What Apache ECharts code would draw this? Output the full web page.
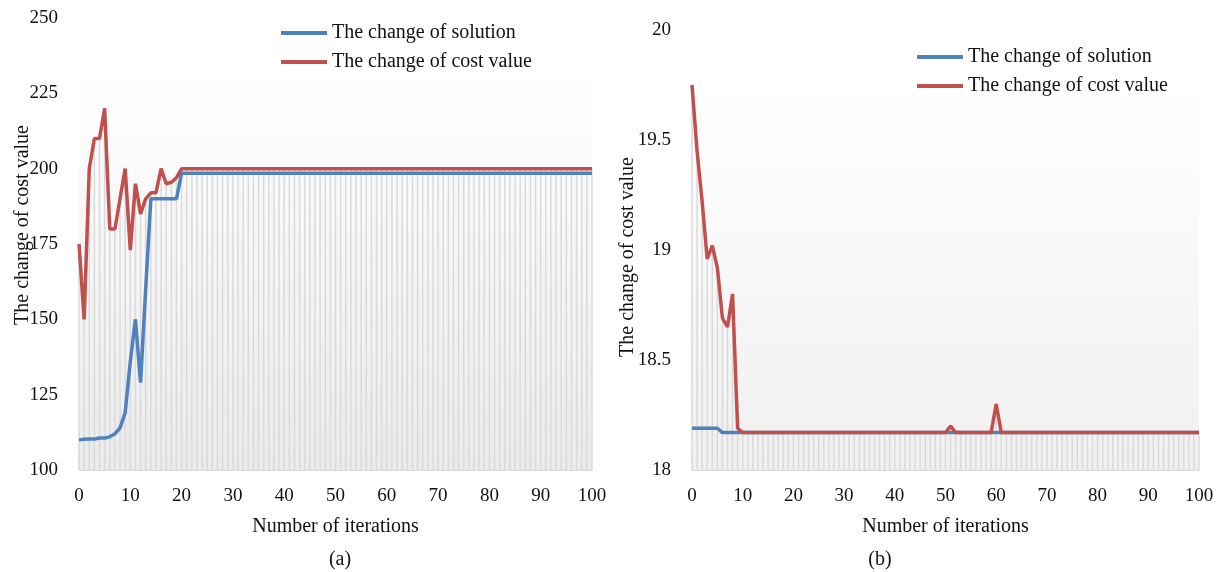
<!DOCTYPE html>
<html>
<head>
<meta charset="utf-8">
<script src="https://cdn.jsdelivr.net/npm/echarts@6/dist/echarts.min.js"></script>
<style>
html,body{margin:0;padding:0;background:#fff;}
#c{width:1220px;height:572px;}
</style>
</head>
<body>
<div id="c"></div>
<script>
// ---- Data (a) ----
const solutionA = [
  110, 110.2, 110.3, 110.3, 110.6, 110.6, 111, 112, 114, 119,
  136, 150, 129, 160, 190, 190, 190, 190, 190, 190,
  198.5, 198.5, 198.5, 198.5, 198.5, 198.5, 198.5, 198.5, 198.5, 198.5,
  198.5, 198.5, 198.5, 198.5, 198.5, 198.5, 198.5, 198.5, 198.5, 198.5,
  198.5, 198.5, 198.5, 198.5, 198.5, 198.5, 198.5, 198.5, 198.5, 198.5,
  198.5, 198.5, 198.5, 198.5, 198.5, 198.5, 198.5, 198.5, 198.5, 198.5,
  198.5, 198.5, 198.5, 198.5, 198.5, 198.5, 198.5, 198.5, 198.5, 198.5,
  198.5, 198.5, 198.5, 198.5, 198.5, 198.5, 198.5, 198.5, 198.5, 198.5,
  198.5, 198.5, 198.5, 198.5, 198.5, 198.5, 198.5, 198.5, 198.5, 198.5,
  198.5, 198.5, 198.5, 198.5, 198.5, 198.5, 198.5, 198.5, 198.5, 198.5,
  198.5
];
const costA = [
  175, 150, 200, 210, 210, 220, 180, 180, 190, 200,
  173, 195, 185, 190, 192, 192, 200, 195, 195.5, 197,
  200, 200, 200, 200, 200, 200, 200, 200, 200, 200,
  200, 200, 200, 200, 200, 200, 200, 200, 200, 200,
  200, 200, 200, 200, 200, 200, 200, 200, 200, 200,
  200, 200, 200, 200, 200, 200, 200, 200, 200, 200,
  200, 200, 200, 200, 200, 200, 200, 200, 200, 200,
  200, 200, 200, 200, 200, 200, 200, 200, 200, 200,
  200, 200, 200, 200, 200, 200, 200, 200, 200, 200,
  200, 200, 200, 200, 200, 200, 200, 200, 200, 200,
  200
];
// ---- Data (b) ----
const solutionB = [
  18.19, 18.19, 18.19, 18.19, 18.19, 18.19, 18.17, 18.17, 18.17, 18.17,
  18.17, 18.17, 18.17, 18.17, 18.17, 18.17, 18.17, 18.17, 18.17, 18.17,
  18.17, 18.17, 18.17, 18.17, 18.17, 18.17, 18.17, 18.17, 18.17, 18.17,
  18.17, 18.17, 18.17, 18.17, 18.17, 18.17, 18.17, 18.17, 18.17, 18.17,
  18.17, 18.17, 18.17, 18.17, 18.17, 18.17, 18.17, 18.17, 18.17, 18.17,
  18.17, 18.17, 18.17, 18.17, 18.17, 18.17, 18.17, 18.17, 18.17, 18.17,
  18.17, 18.17, 18.17, 18.17, 18.17, 18.17, 18.17, 18.17, 18.17, 18.17,
  18.17, 18.17, 18.17, 18.17, 18.17, 18.17, 18.17, 18.17, 18.17, 18.17,
  18.17, 18.17, 18.17, 18.17, 18.17, 18.17, 18.17, 18.17, 18.17, 18.17,
  18.17, 18.17, 18.17, 18.17, 18.17, 18.17, 18.17, 18.17, 18.17, 18.17,
  18.17
];
const costB = [
  19.75, 19.45, 19.22, 18.96, 19.02, 18.92, 18.69, 18.65, 18.80, 18.19,
  18.17, 18.17, 18.17, 18.17, 18.17, 18.17, 18.17, 18.17, 18.17, 18.17,
  18.17, 18.17, 18.17, 18.17, 18.17, 18.17, 18.17, 18.17, 18.17, 18.17,
  18.17, 18.17, 18.17, 18.17, 18.17, 18.17, 18.17, 18.17, 18.17, 18.17,
  18.17, 18.17, 18.17, 18.17, 18.17, 18.17, 18.17, 18.17, 18.17, 18.17,
  18.17, 18.20, 18.17, 18.17, 18.17, 18.17, 18.17, 18.17, 18.17, 18.17,
  18.30, 18.17, 18.17, 18.17, 18.17, 18.17, 18.17, 18.17, 18.17, 18.17,
  18.17, 18.17, 18.17, 18.17, 18.17, 18.17, 18.17, 18.17, 18.17, 18.17,
  18.17, 18.17, 18.17, 18.17, 18.17, 18.17, 18.17, 18.17, 18.17, 18.17,
  18.17, 18.17, 18.17, 18.17, 18.17, 18.17, 18.17, 18.17, 18.17, 18.17,
  18.17
];
const seriesNames = ['The change of solution', 'The change of cost value'];
const xTitle = 'Number of iterations';
const yTitle = 'The change of cost value';

// ---- Chart ----
const FONT = '"Liberation Serif", "Times New Roman", serif';
const BLUE = '#4f81bd', RED = '#c0504d';
const chart = echarts.init(document.getElementById('c'), null, {renderer: 'canvas'});
const pairs = arr => arr.map((v, i) => [i, v]);

function dropLines(gridIdx, data, yMin) {
  return {
    type: 'custom', xAxisIndex: gridIdx, yAxisIndex: gridIdx, silent: true, z: 1,
    data: pairs(data),
    renderItem: function (params, api) {
      const top = api.coord([api.value(0), api.value(1)]);
      const bot = api.coord([api.value(0), yMin]);
      return {type: 'line', shape: {x1: top[0], y1: top[1], x2: bot[0], y2: bot[1]},
              style: {stroke: '#dadada', lineWidth: 1.5}};
    }
  };
}
function lineSeries(name, gridIdx, data, color, z) {
  return {name: name, type: 'line', xAxisIndex: gridIdx, yAxisIndex: gridIdx,
          data: pairs(data), symbol: 'none', z: z,
          lineStyle: {color: color, width: 3.5}, itemStyle: {color: color}};
}
function xAx(gridIdx) {
  return {type: 'value', gridIndex: gridIdx, min: 0, max: 100, interval: 10,
          axisLine: {lineStyle: {color: '#d9d9d9', width: 1}}, axisTick: {show: false},
          splitLine: {show: false},
          axisLabel: {color: '#111', fontFamily: FONT, fontSize: 19, margin: 17},
          name: xTitle, nameLocation: 'middle', nameGap: 47,
          nameTextStyle: {color: '#111', fontFamily: FONT, fontSize: 20}};
}
function yAx(gridIdx, min, max, interval) {
  return {type: 'value', gridIndex: gridIdx, min: min, max: max, interval: interval,
          axisLine: {show: false}, axisTick: {show: false}, splitLine: {show: false},
          axisLabel: {color: '#111', fontFamily: FONT, fontSize: 19, margin: 21}};
}
function legendAt(left, top) {
  return {orient: 'vertical', left: left, top: top, data: seriesNames,
          icon: 'rect', itemWidth: 46, itemHeight: 4, itemGap: 9, selectedMode: false,
          textStyle: {color: '#111', fontFamily: FONT, fontSize: 20, lineHeight: 20}};
}
function grad(bottom) {
  return new echarts.graphic.LinearGradient(0, 0, 0, 1, [
    {offset: 0, color: '#ffffff'}, {offset: 0.12, color: '#ffffff'}, {offset: 1, color: bottom}]);
}

chart.setOption({
  animation: false,
  backgroundColor: '#fff',
  grid: [
    {left: 79, top: 18, width: 513, height: 452, show: true, borderWidth: 0, backgroundColor: grad('#ebebeb')},
    {left: 692, top: 30, width: 507, height: 440, show: true, borderWidth: 0, backgroundColor: grad('#f0f0f0')}
  ],
  xAxis: [xAx(0), xAx(1)],
  yAxis: [yAx(0, 100, 250, 25), yAx(1, 18, 20, 0.5)],
  legend: [legendAt(276, 18), legendAt(912, 42)],
  series: [
    dropLines(0, costA, 100),
    lineSeries(seriesNames[0], 0, solutionA, BLUE, 3),
    lineSeries(seriesNames[1], 0, costA, RED, 4),
    dropLines(1, costB, 18),
    lineSeries(seriesNames[0], 1, solutionB, BLUE, 3),
    lineSeries(seriesNames[1], 1, costB, RED, 4)
  ],
  graphic: [
    {type: 'text', x: 23, y: 225, rotation: Math.PI / 2,
     style: {text: yTitle, fontFamily: FONT, fontSize: 20, fill: '#111', align: 'center', verticalAlign: 'middle'}},
    {type: 'text', x: 628, y: 257, rotation: Math.PI / 2,
     style: {text: yTitle, fontFamily: FONT, fontSize: 20, fill: '#111', align: 'center', verticalAlign: 'middle'}},
    {type: 'text', x: 340, y: 560,
     style: {text: '(a)', fontFamily: FONT, fontSize: 20, fill: '#111', align: 'center', verticalAlign: 'middle'}},
    {type: 'text', x: 880, y: 560,
     style: {text: '(b)', fontFamily: FONT, fontSize: 20, fill: '#111', align: 'center', verticalAlign: 'middle'}}
  ]
});
</script>
</body>
</html>
